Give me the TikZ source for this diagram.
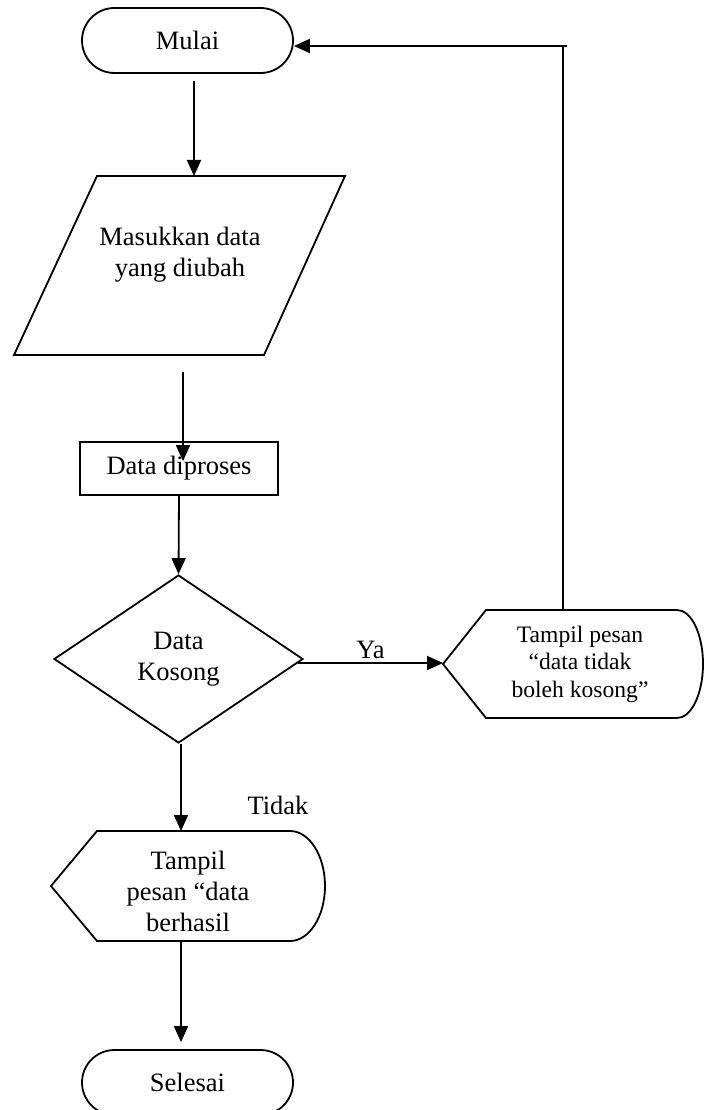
\documentclass[tikz,border=0pt]{standalone}
\usepackage{fontspec}
\setmainfont{Liberation Serif}
\usetikzlibrary{arrows.meta,shapes.misc,shapes.geometric,calc}
\begin{document}
\begin{tikzpicture}[x=1pt,y=-1pt,
  line width=1.8pt,
  main/.style={font=\fontsize{26.5}{31}\selectfont},
  small/.style={font=\fontsize{23.6}{27.5}\selectfont},
  terminal/.style={draw, rounded rectangle, minimum width=211pt, minimum height=65pt, inner sep=0pt, main},
  procbox/.style={draw, rectangle, minimum width=198pt, minimum height=53pt, inner sep=0pt, main},
  decision/.style={draw, diamond, minimum width=249pt, minimum height=168pt, inner sep=0pt, main, align=center},
  frame/.style={inner sep=0pt, outer sep=0pt},
  txt/.style={align=center, inner sep=0pt, main},
  arr/.style={-{Triangle[length=16pt,width=14pt]}},
]
\useasboundingbox (0,0) rectangle (704,1110);

% start
\node[terminal] (mulai) at (187.5,40.5) {Mulai};

% input parallelogram
\node[frame, minimum width=331pt, minimum height=179pt] (para) at (179.5,265.5) {};
\draw[line join=miter] ([xshift=83pt]para.north west) -- (para.north east)
  -- ([xshift=-81pt]para.south east) -- (para.south west) -- cycle;
\node[txt] (paratext) at ([xshift=0.5pt,yshift=11pt]para.center) {Masukkan data\\yang diubah};

% process
\node[procbox] (proc) at (179,468.5) {Data diproses};

% decision
\node[decision] (dec) at (178.5,659) {Data\\Kosong};

% display: empty-field message
\node[frame, minimum width=260pt, minimum height=108pt] (disp1) at (573,664) {};
\draw ([xshift=43pt]disp1.north west) -- ([xshift=-26pt]disp1.north east)
  arc[start angle=90, end angle=-90, x radius=26pt, y radius=54pt]
  -- ([xshift=43pt]disp1.south west) -- (disp1.west) -- cycle;
\node[txt, small] (disp1text) at ([xshift=7pt]disp1.center) {Tampil pesan\\“data tidak\\boleh kosong”};

% display: success message
\node[frame, minimum width=274pt, minimum height=110pt] (disp2) at (188,886) {};
\draw ([xshift=46pt]disp2.north west) -- ([xshift=-35pt]disp2.north east)
  arc[start angle=90, end angle=-90, x radius=35pt, y radius=55pt]
  -- ([xshift=46pt]disp2.south west) -- (disp2.west) -- cycle;
\node[txt] (disp2text) at ([yshift=-5pt]disp2.center) {Tampil\\pesan “data\\berhasil};

% end
\node[terminal] (selesai) at (187.5,1082.5) {Selesai};

% connectors
\path ([shift={(6.5pt,-7pt)}]mulai.south) coordinate (a1);
\draw[arr] (a1) -- (a1 |- para.north);

\path ([shift={(3.5pt,-17pt)}]para.south) coordinate (a2);
\path (a2 |- proc.north) coordinate (a2e);
\draw[arr] (a2) -- ([yshift=-20pt]a2e);

\draw[arr] (proc.south) -- (dec.north);

\path ([shift={(-6pt,-4pt)}]dec.east) coordinate (a3);
\draw[arr] (a3) -- (a3 -| disp1.west) node[midway, above=3pt, main, inner sep=0pt] (ya) {Ya};

\path ([xshift=-10pt]disp1.north) coordinate (d1top);
\path ([yshift=-5.5pt]mulai.east) coordinate (mEast);
\path (d1top |- mEast) coordinate (turn);
\draw (d1top) -- (turn);
\draw[arr] ([xshift=4pt]turn) -- (mEast);

\path ([xshift=2.5pt]dec.south) coordinate (a4);
\draw[arr] (a4) -- (a4 |- disp2.north);
\node[txt] (tidak) at (278,805) {Tidak};

\path ([xshift=-7pt]disp2.south) coordinate (a5);
\path (a5 |- selesai.north) coordinate (a5e);
\draw[arr] (a5) -- ([yshift=7pt]a5e);
\end{tikzpicture}
\end{document}
